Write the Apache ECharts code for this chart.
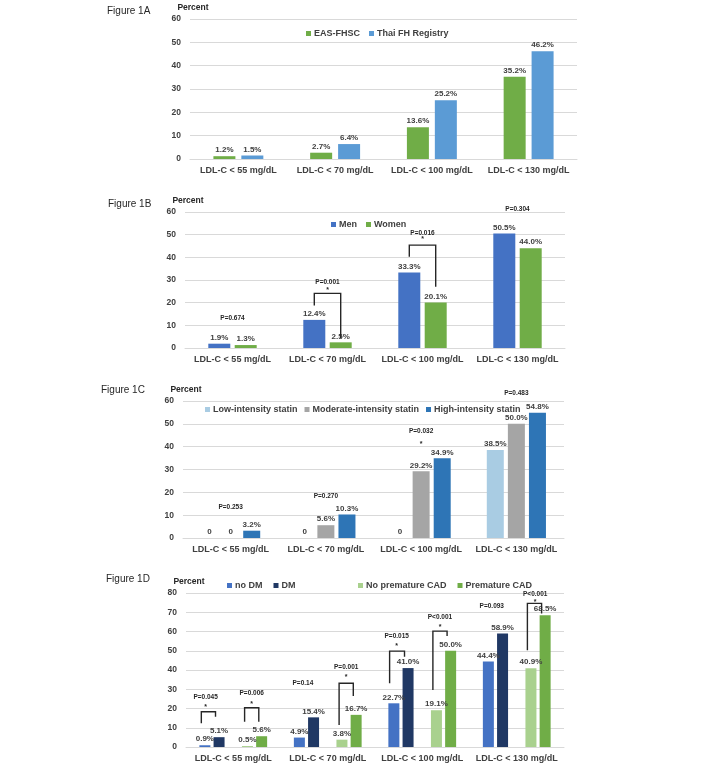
<!DOCTYPE html>
<html>
<head>
<meta charset="utf-8">
<script src="https://cdn.jsdelivr.net/npm/echarts@6/dist/echarts.min.js"></script>
<style>
  html, body { margin: 0; padding: 0; background: #fff; }
  #chart { width: 701px; height: 764px; }
</style>
</head>
<body>
<div id="chart"></div>
<script>
// --- data ---
const categories = ['LDL-C < 55 mg/dL', 'LDL-C < 70 mg/dL', 'LDL-C < 100 mg/dL', 'LDL-C < 130 mg/dL'];

// Figure 1A
const easFhsc = [1.2, 2.7, 13.6, 35.2];
const thaiFh = [1.5, 6.4, 25.2, 46.2];

// Figure 1B
const men = [1.9, 12.4, 33.3, 50.5];
const women = [1.3, 2.5, 20.1, 44.0];

// Figure 1C
const lowStatin = [0, 0, 0, 38.5];
const modStatin = [0, 5.6, 29.2, 50.0];
const highStatin = [3.2, 10.3, 34.9, 54.8];

// Figure 1D
const noDm = [0.9, 4.9, 22.7, 44.4];
const dm = [5.1, 15.4, 41.0, 58.9];
const noPremCad = [0.5, 3.8, 19.1, 40.9];
const premCad = [5.6, 16.7, 50.0, 68.5];

// p-value labels: [category, bar slot, y, text, y of star or null]
const pTextB = [
    [0, 0.5, 13.2, 'P=0.674', null],
    [1, 0.5, 29.2, 'P=0.001', 26.0],
    [2, 0.5, 50.6, 'P=0.016', 48.4],
    [3, 0.5, 61.3, 'P=0.304', null]
];
const pTextC = [
    [0, 1, 13.4, 'P=0.253', null],
    [1, 1, 18.5, 'P=0.270', null],
    [2, 1, 46.6, 'P=0.032', 41.7],
    [3, 1, 63.6, 'P=0.483', null]
];
const pTextD = [
    [0, 0.05, 26.1, 'P=0.045', 21.4],
    [0, 3.3, 27.9, 'P=0.006', 22.7],
    [1, 0.25, 33.1, 'P=0.14', null],
    [1, 3.3, 41.4, 'P=0.001', 36.8],
    [2, 0.2, 57.6, 'P=0.015', 52.9],
    [2, 3.25, 67.3, 'P<0.001', 63.0],
    [3, 0.24, 73.3, 'P=0.093', null],
    [3, 3.3, 79.3, 'P<0.001', 75.9]
];

// brackets: [category, left slot, right slot, left end, top, right end]
const bracketB = [
    [1, 0, 1, 18.7, 24.1, 4.4],
    [2, 0, 1, 40.3, 45.4, 27.0]
];
const bracketD = [
    [0, -0.25, 0.75, 12.3, 18.3, 15.7],
    [0, 2.8, 3.8, 13.1, 20.4, 13.1],
    [1, 2.8, 3.8, 11.4, 33.1, 26.5],
    [2, -0.3, 0.75, 33.1, 49.8, 46.9],
    [2, 2.75, 3.75, 29.6, 60.2, 57.6],
    [3, 2.75, 3.75, 50.3, 74.6, 69.4]
];

const FONT = 'Liberation Sans, Arial, sans-serif';
const TXT = '#404040';

// bar geometry per panel: count, width, gap fraction
const geo = {
    A: { n: 2, w: 22, gap: 0.27 },
    B: { n: 2, w: 22, gap: 0.2 },
    C: { n: 3, w: 17, gap: 0.24 },
    D: { n: 5, w: 11, gap: 0.29 }
};

const chart = echarts.init(document.getElementById('chart'));

function slotX(api, cat, slot, g) {
    const cx = api.coord([cat, 0])[0];
    return cx + (slot - (g.n - 1) / 2) * g.w * (1 + g.gap);
}

function pTextSeries(idx, rows, g) {
    return {
        type: 'custom',
        xAxisIndex: idx, yAxisIndex: idx,
        silent: true,
        clip: false,
        z: 5,
        data: rows.map(r => [r[0], r[2]]),
        renderItem: (params, api) => {
            const r = rows[params.dataIndex];
            const x = slotX(api, r[0], r[1], g);
            const kids = [{
                type: 'text',
                style: { x: x, y: api.coord([r[0], r[2]])[1], text: r[3], align: 'center', verticalAlign: 'middle',
                    fill: '#262626', font: 'bold 6.5px ' + FONT }
            }];
            if (r[4] != null) {
                kids.push({
                    type: 'text',
                    style: { x: x, y: api.coord([r[0], r[4]])[1] + 1, text: '*', align: 'center', verticalAlign: 'middle',
                        fill: '#262626', font: 'bold 7px ' + FONT }
                });
            }
            return { type: 'group', children: kids };
        }
    };
}

function bracketSeries(idx, rows, g) {
    return {
        type: 'custom',
        xAxisIndex: idx, yAxisIndex: idx,
        silent: true,
        clip: false,
        z: 4,
        data: rows.map(r => [r[0], r[4]]),
        renderItem: (params, api) => {
            const r = rows[params.dataIndex];
            const xl = slotX(api, r[0], r[1], g);
            const xr = slotX(api, r[0], r[2], g);
            const y = v => api.coord([r[0], v])[1];
            return {
                type: 'polyline',
                shape: { points: [[xl, y(r[3])], [xl, y(r[4])], [xr, y(r[4])], [xr, y(r[5])]] },
                style: { stroke: '#262626', lineWidth: 1.4, fill: null }
            };
        }
    };
}

function barSeries(idx, name, data, color, g) {
    return {
        name: name,
        type: 'bar',
        xAxisIndex: idx, yAxisIndex: idx,
        data: data,
        barWidth: g.w,
        barGap: (g.gap * 100) + '%',
        itemStyle: { color: color },
        label: {
            show: true, position: 'top', distance: 2,
            color: TXT, fontSize: 8, fontWeight: 'bold', fontFamily: FONT,
            formatter: p => p.value === 0 ? '0' : p.value.toFixed(1) + '%'
        }
    };
}

const grids = [
    { left: 190, width: 387, top: 19, height: 140 },
    { left: 185, width: 380, top: 212, height: 136 },
    { left: 183, width: 381, top: 401, height: 137 },
    { left: 186, width: 378, top: 593, height: 154 }
];

const xAxes = grids.map((g, i) => ({
    type: 'category',
    gridIndex: i,
    data: categories,
    axisTick: { show: false },
    axisLine: { lineStyle: { color: '#D9D9D9', width: 1 } },
    axisLabel: { interval: 0, color: TXT, fontSize: 9, fontWeight: 'bold', fontFamily: FONT, margin: 7 }
}));

const yAxes = grids.map((g, i) => ({
    type: 'value',
    gridIndex: i,
    min: 0,
    max: i === 3 ? 80 : 60,
    interval: 10,
    name: 'Percent',
    nameLocation: 'end',
    nameGap: 7,
    nameTextStyle: { color: '#262626', fontSize: 8.5, fontWeight: 'bold', fontFamily: FONT, padding: [0, 0, 0, 6] },
    axisLine: { show: false },
    axisTick: { show: false },
    axisLabel: { color: TXT, fontSize: 8.5, fontWeight: 'bold', fontFamily: FONT, margin: 9 },
    splitLine: { lineStyle: { color: '#D9D9D9', width: 1 } }
}));

const legendBase = {
    icon: 'rect',
    itemWidth: 5,
    itemHeight: 5,
    itemGap: 9,
    textStyle: { color: TXT, fontSize: 9, fontWeight: 'bold', fontFamily: FONT, padding: [0, 0, 0, -2] }
};

const figTitle = (text, left, top) => ({
    text: text, left: left, top: top,
    textStyle: { color: '#262626', fontSize: 10, fontWeight: 'normal', fontFamily: FONT }
});

chart.setOption({
    animation: false,
    title: [
        figTitle('Figure 1A', 102, 1),
        figTitle('Figure 1B', 103, 194),
        figTitle('Figure 1C', 96, 380),
        figTitle('Figure 1D', 101, 569)
    ],
    grid: grids,
    xAxis: xAxes,
    yAxis: yAxes,
    legend: [
        Object.assign({}, legendBase, { left: 301, top: 24, data: ['EAS-FHSC', 'Thai FH Registry'] }),
        Object.assign({}, legendBase, { left: 326, top: 215, data: ['Men', 'Women'] }),
        Object.assign({}, legendBase, { left: 200, top: 400, itemGap: 7,
            data: ['Low-intensity statin', 'Moderate-intensity statin', 'High-intensity statin'] }),
        Object.assign({}, legendBase, { left: 222, top: 576, itemGap: 11, data: ['no DM', 'DM'] }),
        Object.assign({}, legendBase, { left: 353, top: 576, itemGap: 11, data: ['No premature CAD', 'Premature CAD'] })
    ],
    series: [
        barSeries(0, 'EAS-FHSC', easFhsc, '#70AD47', geo.A),
        barSeries(0, 'Thai FH Registry', thaiFh, '#5B9BD5', geo.A),

        barSeries(1, 'Men', men, '#4472C4', geo.B),
        barSeries(1, 'Women', women, '#70AD47', geo.B),
        bracketSeries(1, bracketB, geo.B),
        pTextSeries(1, pTextB, geo.B),

        barSeries(2, 'Low-intensity statin', lowStatin, '#A9CCE3', geo.C),
        barSeries(2, 'Moderate-intensity statin', modStatin, '#A5A5A5', geo.C),
        barSeries(2, 'High-intensity statin', highStatin, '#2E75B6', geo.C),
        pTextSeries(2, pTextC, geo.C),

        barSeries(3, 'no DM', noDm, '#4472C4', geo.D),
        barSeries(3, 'DM', dm, '#203864', geo.D),
        // empty slot between the two pairs
        Object.assign(barSeries(3, 'gap', ['-', '-', '-', '-'], 'transparent', geo.D), { label: { show: false } }),
        barSeries(3, 'No premature CAD', noPremCad, '#A9D18E', geo.D),
        barSeries(3, 'Premature CAD', premCad, '#70AD47', geo.D),
        bracketSeries(3, bracketD, geo.D),
        pTextSeries(3, pTextD, geo.D)
    ]
});
</script>
</body>
</html>
